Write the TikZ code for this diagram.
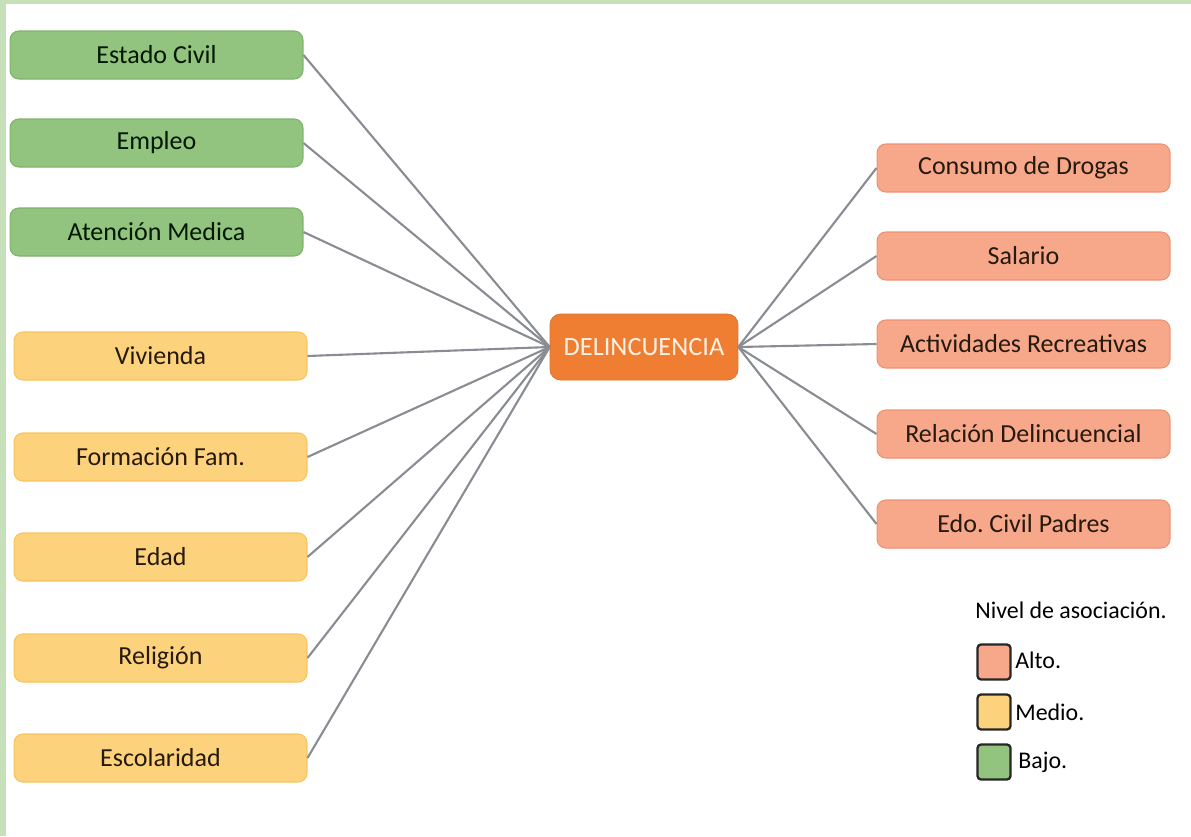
\documentclass[tikz,border=0pt]{standalone}
\usepackage{fontspec}
\setmainfont{Carlito}
\frenchspacing
\definecolor{bajo}{HTML}{93C47F}
\definecolor{bajoline}{HTML}{7FB36A}
\definecolor{medio}{HTML}{FDD27C}
\definecolor{medioline}{HTML}{F7C55E}
\definecolor{alto}{HTML}{F7A88B}
\definecolor{altoline}{HTML}{EE9274}
\definecolor{central}{HTML}{EF7D32}
\definecolor{frame}{HTML}{C6E0B9}
\definecolor{link}{HTML}{8A8C94}
\tikzset{
  factor/.style={rounded corners=5pt, minimum width=5.86cm, minimum height=0.96cm,
    inner sep=0pt, font=\fontsize{14.8}{16}\selectfont, line width=0.6pt},
  bajobox/.style={factor, fill=bajo, draw=bajoline, text=black!85!green!60!black},
  mediobox/.style={factor, fill=medio, draw=medioline, text=black!80!brown},
  altobox/.style={factor, fill=alto, draw=altoline, text=black!80!brown},
  centerbox/.style={rounded corners=6pt, minimum width=3.76cm, minimum height=1.32cm,
    inner sep=0pt, fill=central, draw=central!90!black, text=orange!10!white,
    font=\fontsize{15}{16}\selectfont},
  swatch/.style={rounded corners=2pt, minimum width=0.66cm, minimum height=0.7cm,
    inner sep=0pt, draw=black!85, line width=1.3pt},
  legendtext/.style={anchor=west, inner sep=0pt, font=\fontsize{13.6}{15}\selectfont}
}
\begin{document}
\begin{tikzpicture}[x=0.02cm, y=-0.02cm]
  \useasboundingbox (0,0) rectangle (1191,836);
  \fill[frame] (0,0) rectangle (1191,4);
  \fill[frame] (0,0) rectangle (6,836);
  \draw
    (644,347) node[centerbox] (d){DELINCUENCIA}
    (156.5,55) node[bajobox] (ec){Estado Civil}
    (156.5,143) node[bajobox] (em){Empleo}
    (156.5,232) node[bajobox] (am){Atención Medica}
    (160.5,356) node[mediobox] (vi){Vivienda}
    (160.5,457) node[mediobox] (ff){Formación Fam.}
    (160.5,557) node[mediobox] (ed){Edad}
    (160.5,658) node[mediobox] (re){Religión}
    (160.5,758) node[mediobox] (es){Escolaridad}
    (1023.5,168) node[altobox] (cd){Consumo de Drogas}
    (1023.5,256) node[altobox] (sa){Salario}
    (1023.5,344) node[altobox] (ar){Actividades Recreativas}
    (1023.5,434) node[altobox] (rd){Relación Delincuencial}
    (1023.5,524) node[altobox] (cp){Edo. Civil Padres};
  \begin{scope}[-, draw=link, line width=1.2pt]
    \draw (ec.east) to (d.west);
    \draw (em.east) to (d.west);
    \draw (am.east) to (d.west);
    \draw (vi.east) to (d.west);
    \draw (ff.east) to (d.west);
    \draw (ed.east) to (d.west);
    \draw (re.east) to (d.west);
    \draw (es.east) to (d.west);
    \draw (d.east) to (cd.west);
    \draw (d.east) to (sa.west);
    \draw (d.east) to (ar.west);
    \draw (d.east) to (rd.west);
    \draw (d.east) to (cp.west);
  \end{scope}
  % legend
  \draw
    (975,610) node[legendtext] (lt){Nivel de asociación.}
    (994,662) node[swatch, fill=alto] (sw1){}
    (994,712) node[swatch, fill=medio] (sw2){}
    (994,762) node[swatch, fill=bajo] (sw3){}
    (1015,660) node[legendtext] (l1){Alto.}
    (1015,712) node[legendtext] (l2){Medio.}
    (1018,762) node[legendtext] (l3){Bajo.};
\end{tikzpicture}
\end{document}
